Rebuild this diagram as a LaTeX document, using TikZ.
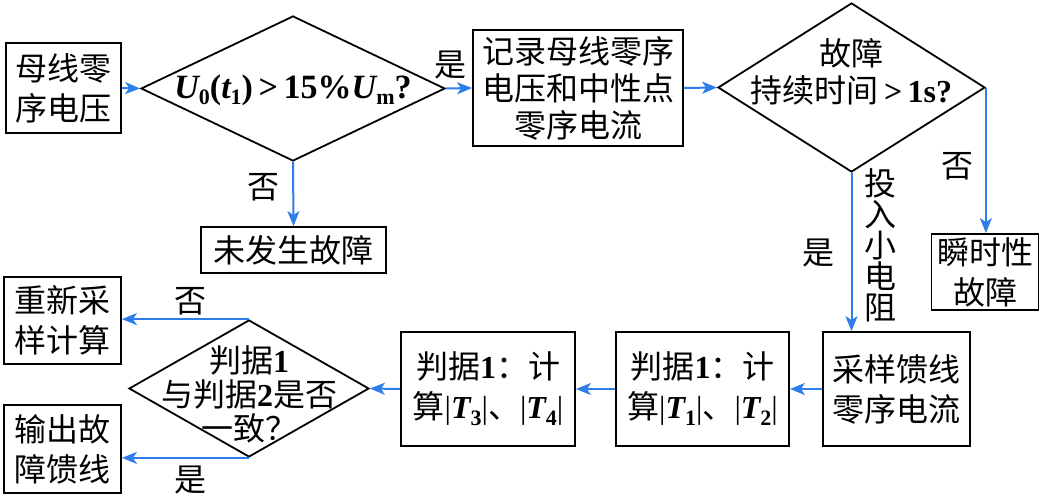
\documentclass[tikz,border=0pt]{standalone}
\usepackage{fontspec}
\setmainfont{Noto Sans CJK SC}
\newfontfamily\lat{Liberation Serif}
\newcommand\tnum[1]{{\lat\bfseries #1}}
\newcommand\tvar[1]{{\lat\bfseries\itshape #1}}
\newcommand\tsub[1]{\raisebox{-0.35ex}{\lat\bfseries\fontsize{22}{22}\selectfont #1}}
\newcommand\tbar{{\lat |}}
\usetikzlibrary{shapes.geometric,arrows.meta}
\definecolor{flowblue}{RGB}{45,125,235}
\tikzset{
  box/.style={draw, line width=1.8pt, inner sep=0pt, align=center,
    font=\fontsize{32}{40}\selectfont},
  dia/.style={draw, diamond, line width=1.8pt, inner sep=0pt},
  dtext/.style={align=center, inner sep=0pt, font=\fontsize{32}{37}\selectfont},
  flow/.style={draw=flowblue, line width=2pt,
    -{Stealth[length=15pt,width=12pt,inset=4pt]}},
  lbl/.style={inner sep=0pt, font=\fontsize{32}{32}\selectfont}
}
\begin{document}
\begin{tikzpicture}[x=1pt,y=-1pt]
\useasboundingbox (0,0) rectangle (1041,495);
% top row
\node[box, minimum width=115pt, minimum height=90pt] (b1) at (63.5,88) {母线零\\序电压};
\node[dia, minimum width=304pt, minimum height=145pt] (d1) at (293,88.5) {};
\node[dtext, font=\fontsize{34}{37}\selectfont] (d1t) at (293,90) {\tvar{U}\tsub{0}\tnum{(}\tvar{t}\tsub{1}\tnum{)}\,\tnum{>}\,\tnum{15\%}\tvar{U}\tsub{m}\tnum{?}};
\node[box, minimum width=210pt, minimum height=116pt, font=\fontsize{32}{37}\selectfont] (b2) at (578,88) {记录母线零序\\电压和中性点\\零序电流};
\node[dia, minimum width=267pt, minimum height=169pt] (d2) at (851.5,87.5) {};
\node[dtext] (d2t) at (851.5,72) {故障\\持续时间\,\tnum{>}\,\tnum{1s?}};
\node[box, minimum width=185pt, minimum height=46pt] (nf) at (293.5,250) {未发生故障};
\node[box, minimum width=107pt, minimum height=76pt] (ts) at (985,272) {瞬时性\\故障};
% bottom row
\node[box, minimum width=147pt, minimum height=114pt] (cy) at (896.5,389) {采样馈线\\零序电流};
\node[box, minimum width=173pt, minimum height=114pt] (j1) at (702.5,389) {判据\tnum{1}：计\\算\tbar\tvar{T}\tsub{1}\tbar 、\tbar\tvar{T}\tsub{2}\tbar};
\node[box, minimum width=174pt, minimum height=114pt] (j2) at (488,389) {判据\tnum{1}：计\\算\tbar\tvar{T}\tsub{3}\tbar 、\tbar\tvar{T}\tsub{4}\tbar};
\node[dia, minimum width=240pt, minimum height=137pt] (d3) at (249,388.5) {};
\node[dtext, font=\fontsize{32}{34}\selectfont] (d3t) at (249,394) {判据\tnum{1}\\与判据\tnum{2}是否\\一致？};
\node[box, minimum width=117pt, minimum height=87pt] (rs) at (62.5,320.5) {重新采\\样计算};
\node[box, minimum width=117pt, minimum height=88pt] (of) at (62.5,449) {输出故\\障馈线};
% connectors
\draw[flow] (b1.east) -- (d1.west);
\draw[flow] (d1.east) -- (b2.west);
\draw[flow] (d1.south) -- (nf.north);
\draw[flow] (b2.east) -- (d2.west);
\draw[flow] (d2.east) -- (d2.east |- ts.north);
\draw[flow] (d2.south) -- (d2.south |- cy.north);
\draw[flow] (cy.west) -- (j1.east);
\draw[flow] (j1.west) -- (j2.east);
\draw[flow] (j2.west) -- (d3.east);
\draw[flow] (d3.north) -- (d3.north -| rs.east);
\draw[flow] (d3.south) -- (d3.south -| of.east);
% labels
\node[lbl] (l1) at (450,65) {是};
\node[lbl] (l2) at (263,187) {否};
\node[lbl] (l3) at (957,166) {否};
\node[lbl] (l4) at (818,253) {是};
\node[lbl, align=center, font=\fontsize{32}{31}\selectfont] (l5) at (880,245) {投\\入\\小\\电\\阻};
\node[lbl] (l6) at (190,301) {否};
\node[lbl] (l7) at (190,480) {是};
\end{tikzpicture}
\end{document}
